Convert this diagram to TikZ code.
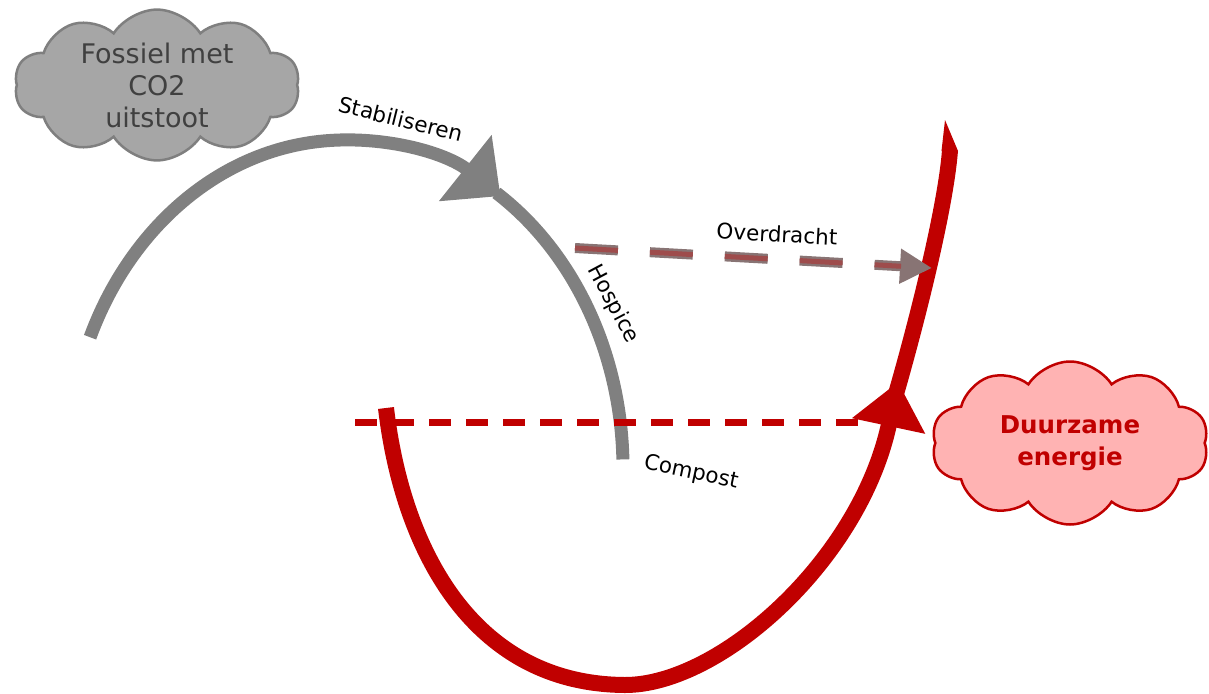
\documentclass[tikz,border=0pt]{standalone}
\usepackage{fontspec}
\setmainfont{DejaVu Sans}
\usetikzlibrary{arrows.meta,shapes.symbols}
\definecolor{arcgray}{HTML}{808080}
\definecolor{cloudgray}{HTML}{A6A6A6}
\definecolor{cloudgrayline}{HTML}{7F7F7F}
\definecolor{textgray}{HTML}{404040}
\definecolor{darkred}{HTML}{C00000}
\definecolor{pinkfill}{HTML}{FFB3B3}
\definecolor{ovtop}{HTML}{887474}
\definecolor{ovbot}{HTML}{9E4C4C}
\tikzset{
  cloudbase/.style={cloud, cloud puffs=10, cloud puff arc=115, cloud ignores aspect, line width=2.5pt, align=center, inner sep=0pt},
  graycloud/.style={cloudbase, draw=cloudgrayline, fill=cloudgray, text=textgray, font=\fontsize{27}{32}\selectfont, minimum width=285pt, minimum height=146pt},
  redcloud/.style={cloudbase, draw=darkred, fill=pinkfill, text=darkred, font=\fontsize{24.5}{32}\selectfont\bfseries, minimum width=277pt, minimum height=163pt},
  grayflow/.style={draw=arcgray, line width=13pt, line cap=butt},
  redflow/.style={draw=darkred, line width=16pt, line cap=butt, line join=round},
  reddash/.style={draw=darkred, line width=7pt, dash pattern=on 22pt off 15pt},
  lbl/.style={font=\fontsize{21.5}{24}\selectfont, text=black, inner sep=0pt},
}
\begin{document}
\begin{tikzpicture}[x=1pt,y=-1pt]
\useasboundingbox (0,0) rectangle (1209,693);

% gray stabilising arc
\draw[grayflow, -{Triangle[length=45pt,width=82pt]}, shift={(345,468)}]
  (203.5:278 and 328) arc[start angle=203.5, end angle=304, x radius=278, y radius=328];
\draw[grayflow, shift={(345,468)}]
  (303:278 and 328) arc[start angle=303, end angle=358.5, x radius=278, y radius=328];

% red renewal curve
\coordinate (r0) at (386,408);
\coordinate (rlow) at (625,685);
\coordinate (rtip) at (898,382);
\coordinate (rmid) at (889,418);
\coordinate (rend) at (950,150);
\draw[redflow, -{Triangle[length=45pt,width=72pt]}]
  (r0) .. controls (402,545) and (470,684) .. (rlow)
       .. controls (720,685) and (860,560) .. (rtip);
\draw[redflow] (rmid) .. controls (918,320) and (946,205) .. (rend);
\fill[darkred] (941.5,151) -- (945,120) -- (958,151) -- cycle;

% red dashed horizon
\coordinate (d0) at (355,422);
\coordinate (d1) at (866,422);
\draw[reddash] (d0) -- (d1);

% Overdracht arrow
\coordinate (o0) at (575,248);
\coordinate (o1) at (932,268);
\draw[draw=ovtop, line width=10pt, dash pattern=on 43pt off 32pt, -{Triangle[length=32pt,width=33pt]}] (o0) -- (o1);
\draw[draw=ovbot, line width=5pt, dash pattern=on 43pt off 32pt, shorten >=31pt, yshift=-2.6pt] (o0) -- (o1);

% clouds
\node[graycloud] (fossiel) at (157,85) {Fossiel met\\CO2\\uitstoot};
\node[redcloud] (duurzaam) at (1070,443) {Duurzame\\energie};

% labels
\node[lbl, rotate=-14] (stab) at (401,119) {Stabiliseren};
\node[lbl, rotate=-3] (over) at (777,234) {Overdracht};
\node[lbl, rotate=-62] (hosp) at (613,304) {Hospice};
\node[lbl, rotate=-12] (comp) at (691,473) {Compost};
\end{tikzpicture}
\end{document}
